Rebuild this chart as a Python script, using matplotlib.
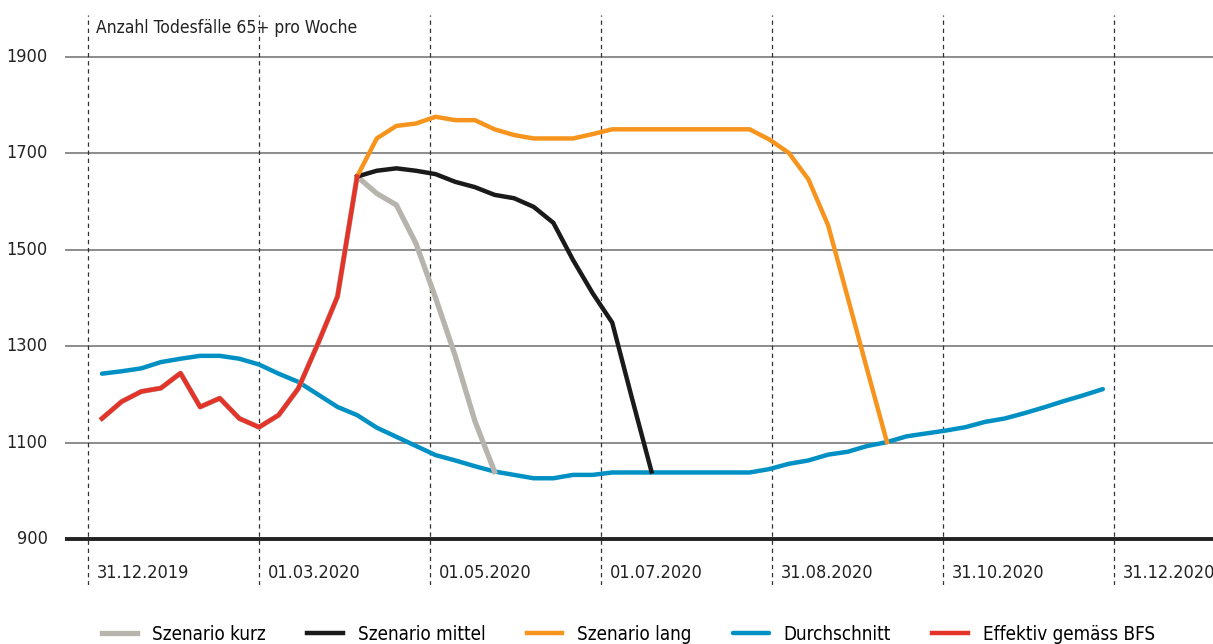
import numpy as np
import pandas as pd
import matplotlib
matplotlib.use('Agg')
import matplotlib.pyplot as plt
import matplotlib.dates as mdates

plt.rcParams['font.family'] = ['DejaVu Sans']
plt.rcParams['font.stretch'] = 'condensed'

# weekly dates, first week ends 05.01.2020
weeks = pd.date_range('2020-01-05', periods=52, freq='7D')

durchschnitt = [1243, 1248, 1254, 1267, 1274, 1280, 1280, 1274, 1262, 1243,
                1226, 1200, 1174, 1157, 1131, 1112, 1093, 1074, 1063, 1051,
                1040, 1033, 1026, 1026, 1033, 1033, 1038, 1038, 1038, 1038,
                1038, 1038, 1038, 1038, 1045, 1056, 1063, 1075, 1081, 1093,
                1101, 1113, 1119, 1125, 1132, 1143, 1150, 1161, 1173, 1186,
                1198, 1211]

effektiv = [1150, 1185, 1206, 1213, 1244, 1174, 1192, 1150, 1132, 1157,
            1212, 1305, 1403, 1652]

# scenarios start at week 13 (last observed value)
kurz = effektiv + [1617, 1593, 1513, 1400, 1280, 1145, 1040]
mittel = [1652, 1664, 1669, 1664, 1657, 1641, 1630, 1614, 1607, 1589,
          1556, 1479, 1410, 1349, 1193, 1040]
lang = [1652, 1731, 1757, 1762, 1776, 1769, 1769, 1750, 1738, 1731,
        1731, 1731, 1740, 1750, 1750, 1750, 1750, 1750, 1750, 1750,
        1750, 1729, 1701, 1646, 1551, 1401, 1250, 1101]

yticks = [900, 1100, 1300, 1500, 1700, 1900]
xlabel_dates = pd.to_datetime(['2019-12-31', '2020-03-01', '2020-05-01', '2020-07-01',
                               '2020-08-31', '2020-10-31', '2020-12-31'])
xlabels = [d.strftime('%d.%m.%Y') for d in xlabel_dates]

c_kurz = '#b6b4ac'
c_mittel = '#1a1a1a'
c_lang = '#f7941d'
c_durch = '#0090c4'
c_eff = '#e4342a'

fig = plt.figure(figsize=(12.13, 6.44), dpi=100)
ax = fig.add_axes([65 / 1213, 1 - 585 / 644, 1 - 65 / 1213, (585 - 15) / 644])

y0 = 900 - (585 - 539) / 0.482
y1 = 1900 + (57 - 15) / 0.482
ax.set_ylim(y0, y1)
x0 = mdates.date2num(xlabel_dates[0]) - 8.2
x1 = mdates.date2num(xlabel_dates[-1]) + 35.3
ax.set_xlim(x0, x1)

for s in ax.spines.values():
    s.set_visible(False)
ax.set_xticks([])
ax.set_yticks([])

for v in yticks[1:]:
    ax.axhline(v, color='#6e6e6e', lw=1.1, zorder=1)
ax.axhline(900, color='#222222', lw=2.8, zorder=1)

for d, lab in zip(xlabel_dates, xlabels):
    ax.axvline(d, color='#333333', lw=0.9, ls=(0, (3.5, 3)), zorder=1)
    ax.text(mdates.date2num(d) + 3.0, 900 - (573 - 539) / 0.482, lab,
            fontsize=13, va='center', ha='left', color='#222222')

for v in yticks:
    ax.text(-17 / (1213 - 65), v, str(v), transform=ax.get_yaxis_transform(),
            fontsize=13, va='center', ha='right', color='#222222')

ax.text(mdates.date2num(xlabel_dates[0]) + 3.0, 1900 + (57 - 28) / 0.482,
        'Anzahl Todesfälle 65+ pro Woche', fontsize=12.5, va='center',
        ha='left', color='#222222')

lw = 3.2
ax.plot(weeks, durchschnitt, color=c_durch, lw=lw, solid_capstyle='round',
        solid_joinstyle='round', label='Durchschnitt', zorder=3)
ax.plot(weeks[:len(kurz)], kurz, color=c_kurz, lw=lw + 0.6, solid_joinstyle='round',
        label='Szenario kurz', zorder=4)
ax.plot(weeks[13:13 + len(mittel)], mittel, color=c_mittel, lw=lw,
        solid_joinstyle='round', label='Szenario mittel', zorder=5)
ax.plot(weeks[13:13 + len(lang)], lang, color=c_lang, lw=lw,
        solid_joinstyle='round', label='Szenario lang', zorder=5)
ax.plot(weeks[:len(effektiv)], effektiv, color=c_eff, lw=lw,
        solid_joinstyle='round', label='Effektiv gemäss BFS', zorder=6)

h, l = ax.get_legend_handles_labels()
order = ['Szenario kurz', 'Szenario mittel', 'Szenario lang', 'Durchschnitt',
         'Effektiv gemäss BFS']
hh = [h[l.index(o)] for o in order]
fig.legend(hh, order, loc='center', bbox_to_anchor=(0.518, 0.015), ncol=5,
           frameon=False, fontsize=13.5, handlelength=1.9, columnspacing=2.2,
           handletextpad=0.8)

fig.savefig('out.png', dpi=100)
